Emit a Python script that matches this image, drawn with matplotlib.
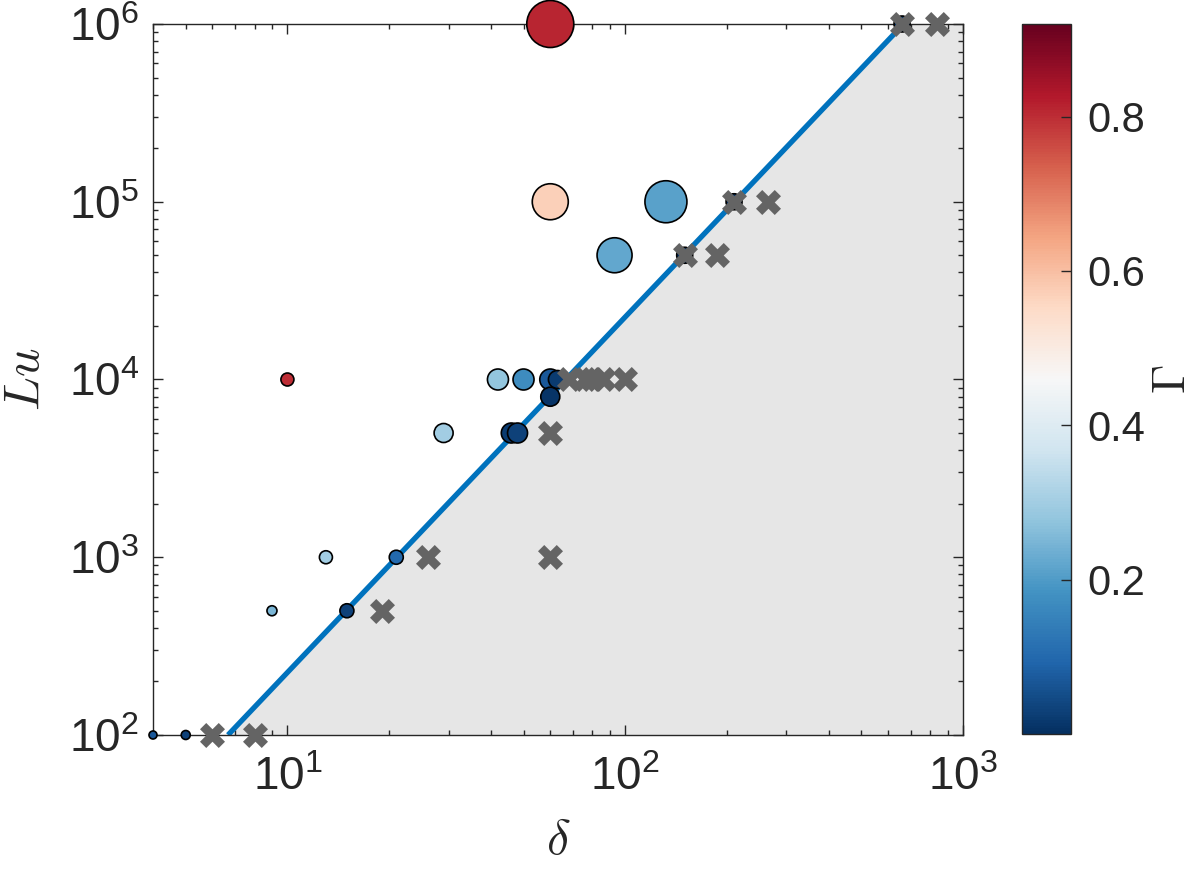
import matplotlib
matplotlib.use('Agg')
import matplotlib.pyplot as plt
import numpy as np
from matplotlib.ticker import LogLocator, NullFormatter, FormatStrFormatter

plt.rcParams['font.family'] = ['Liberation Sans', 'DejaVu Sans']
plt.rcParams['mathtext.fontset'] = 'cm'

# ---------------- data ----------------
# circles (simulations with a measured growth rate Gamma)
delta_circ = [4, 5, 9, 13, 15, 21, 10, 29, 42, 50, 60, 63, 60, 46, 48,
              60, 93, 132, 60, 150, 210, 660]
Lu_circ = [1e2, 1e2, 5e2, 1e3, 5e2, 1e3, 1e4, 5e3, 1e4, 1e4, 1e4, 1e4, 8e3, 5e3, 5e3,
           1e5, 5e4, 1e5, 1e6, 5e4, 1e5, 1e6]
gamma_circ = [0.07, 0.03, 0.25, 0.30, 0.03, 0.10, 0.80, 0.30, 0.28, 0.17, 0.07, 0.02, 0.01, 0.02, 0.03,
              0.57, 0.22, 0.21, 0.81, 0.01, 0.01, 0.01]
circ_diam_px = [8, 9, 10, 13, 14, 14, 13, 19, 21, 21, 21, 18, 19, 20, 20,
                36, 35, 42, 47, 16, 16, 16]

# crosses (stable cases)
delta_cross = [6, 8, 19, 26, 60, 60, 68, 76, 80, 86, 100, 150, 187, 210, 265, 660, 840]
Lu_cross = [1e2, 1e2, 5e2, 1e3, 1e3, 5e3, 1e4, 1e4, 1e4, 1e4, 1e4, 5e4, 5e4, 1e5, 1e5, 1e6, 1e6]

# stability boundary
boundary_delta = [6.67, 667]
boundary_Lu = [1e2, 1e6]

gamma_ticks = [0.2, 0.4, 0.6, 0.8]

# ---------------- figure ----------------
W, H = 1200, 869
fig = plt.figure(figsize=(W / 100, H / 100), dpi=100)
ax = fig.add_axes([153 / W, 1 - 735 / H, 810 / W, 711 / H])
cax = fig.add_axes([1022 / W, 1 - 734 / H, 49 / W, 710 / H])

ax.set_xscale('log')
ax.set_yscale('log')
ax.set_xlim(4, 1000)
ax.set_ylim(1e2, 1e6)

txt = '#262626'

# shaded stable region
ax.fill([boundary_delta[0], boundary_delta[1], 1000, 1000],
        [boundary_Lu[0], boundary_Lu[1], boundary_Lu[1], boundary_Lu[0]],
        color='#e6e6e6', zorder=0, lw=0)
ax.plot(boundary_delta, boundary_Lu, color='#0072BD', lw=3.8, zorder=2,
        solid_capstyle='butt')

sizes = (np.array(circ_diam_px) * 0.72) ** 2
sc = ax.scatter(delta_circ, Lu_circ, s=sizes, c=gamma_circ, cmap='RdBu_r',
                vmin=0, vmax=0.92, edgecolors='black', linewidths=1.2,
                zorder=3, clip_on=False)
ax.scatter(delta_cross, Lu_cross, marker='X', s=(25 * 0.72) ** 2,
           color='#646464', linewidths=0, zorder=4, clip_on=False)

# ticks
ax.xaxis.set_major_locator(LogLocator(base=10, numticks=10))
ax.yaxis.set_major_locator(LogLocator(base=10, numticks=10))
ax.xaxis.set_minor_locator(LogLocator(base=10, subs=np.arange(2, 10), numticks=20))
ax.yaxis.set_minor_locator(LogLocator(base=10, subs=np.arange(2, 10), numticks=20))
ax.xaxis.set_minor_formatter(NullFormatter())
ax.yaxis.set_minor_formatter(NullFormatter())
ax.tick_params(which='both', direction='in', top=True, right=True,
               color=txt, labelcolor=txt, width=1.0)
ax.tick_params(which='major', length=7, labelsize=33)
ax.tick_params(which='minor', length=3.8)
ax.tick_params(axis='x', which='major', pad=15)
ax.tick_params(axis='y', which='major', pad=10)
for sp in ax.spines.values():
    sp.set_color(txt)
    sp.set_linewidth(1.0)

ax.set_xlabel(r'$\delta$', fontsize=36, color=txt, labelpad=13)
ax.set_ylabel(r'$Lu$', fontsize=36, color=txt, labelpad=14)

# colorbar
cb = fig.colorbar(sc, cax=cax, ticks=gamma_ticks)
cb.ax.yaxis.set_major_formatter(FormatStrFormatter('%.1f'))
cb.ax.tick_params(direction='in', length=7, width=1.0, labelsize=30,
                  color=txt, labelcolor=txt, pad=12)
cb.outline.set_edgecolor(txt)
cb.outline.set_linewidth(1.0)
cb.set_label(r'$\Gamma$', fontsize=34, color=txt, labelpad=4)

fig.savefig('out.png', dpi=100)
